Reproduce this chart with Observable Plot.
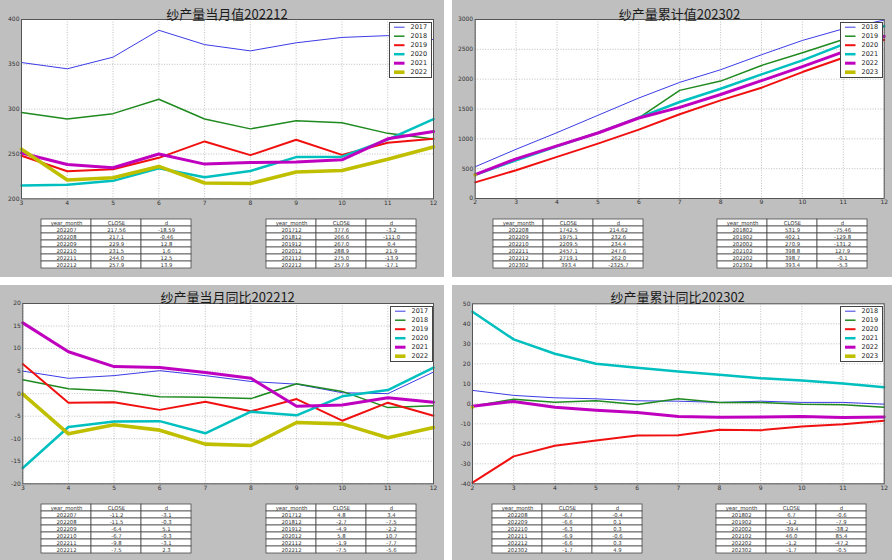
<!DOCTYPE html>
<html><head><meta charset="utf-8">
<script src="https://cdn.jsdelivr.net/npm/d3@7"></script>
<script src="https://cdn.jsdelivr.net/npm/@observablehq/plot@0.6"></script>
<style>
html,body{margin:0;padding:0;background:#fff;}
#root{position:relative;width:892px;height:560px;overflow:hidden;background:#fff;}
.panel{position:absolute;background:#bfbfbf;overflow:hidden;}
.panel > *{position:absolute;}
.title{font-family:"Noto Sans CJK SC","Noto Sans",sans-serif;font-size:13px;color:#1a1a1a;white-space:nowrap;transform:translate(-50%,-50%);line-height:1;}
</style></head><body><div id="root"></div>
<script>
// ---------- Chart 1: 纱产量当月值202212 ----------
const mvMonths = [3,4,5,6,7,8,9,10,11,12];
const mvYears = ["2017","2018","2019","2020","2021","2022"];
const mv2017 = [352,345,358,388,372,365,374,380,382,377.6];
const mv2018 = [296.3,289,295,311,289,278,287,284.8,273,266.6];
const mv2019 = [248,230.8,233,245.7,264,248.7,265.8,249,262.5,267.0];
const mv2020 = [214.9,215.6,220,234,224,231,246.5,247,266,288.9];
const mv2021 = [251,238.3,234.6,250,238.7,240.5,241,243.5,266.9,275.0];
const mv2022 = [255.4,221,223.4,236.15,217.56,217.1,229.9,231.5,244.0,257.9];
const mvYTicks = [200,250,300,350,400];
const mvT1Month = ["202207","202208","202209","202210","202211","202212"];
const mvT1Close = ["217.56","217.1","229.9","231.5","244.0","257.9"];
const mvT1D = ["-18.59","-0.46","12.8","1.6","12.5","13.9"];
const mvT2Month = ["201712","201812","201912","202012","202112","202212"];
const mvT2Close = ["377.6","266.6","267.0","288.9","275.0","257.9"];
const mvT2D = ["-3.2","-111.0","0.4","21.9","-13.9","-17.1"];

// ---------- Chart 2: 纱产量累计值202302 ----------
const cvMonths = [2,3,4,5,6,7,8,9,10,11,12];
const cvYears = ["2018","2019","2020","2021","2022","2023"];
const cv2018 = [531.9,825,1104,1394,1684,1946,2158,2409,2649,2844,2990];
const cv2019 = [402.1,650,880,1105,1350,1812,1968,2230,2442,2665,2885];
const cv2020 = [270.9,474,697,920,1154,1411,1645,1857,2119,2359,2660];
const cv2021 = [398.8,641,875,1100,1355,1617,1840,2080,2314,2582,2890];
const cv2022 = [398.7,665,881,1098,1349,1527.88,1742.5,1975.1,2209.5,2457.1,2719.1];
const cv2023 = [393.4];
const cvYTicks = [0,500,1000,1500,2000,2500,3000];
const cvT1Month = ["202208","202209","202210","202211","202212","202302"];
const cvT1Close = ["1742.5","1975.1","2209.5","2457.1","2719.1","393.4"];
const cvT1D = ["214.62","232.6","234.4","247.6","262.0","-2325.7"];
const cvT2Month = ["201802","201902","202002","202102","202202","202302"];
const cvT2Close = ["531.9","402.1","270.9","398.8","398.7","393.4"];
const cvT2D = ["-75.46","-129.8","-131.2","127.9","-0.1","-5.3"];

// ---------- Chart 3: 纱产量当月同比202212 ----------
const yoMonths = [3,4,5,6,7,8,9,10,11,12];
const yoYears = ["2017","2018","2019","2020","2021","2022"];
const yo2017 = [5.0,3.4,4.0,5.1,4.0,2.7,2.1,0.2,0.0,4.8];
const yo2018 = [3.1,1.1,0.6,-0.7,-0.8,-1.1,2.2,0.5,-3.1,-2.7];
const yo2019 = [6.6,-2.0,-1.9,-3.6,-1.8,-3.9,-1.2,-6.0,-2.0,-4.9];
const yo2020 = [-16.5,-7.4,-6.2,-6.1,-8.8,-4.0,-4.8,-0.6,0.8,5.8];
const yo2021 = [15.7,9.3,6.0,5.8,4.7,3.4,-2.8,-2.5,-0.9,-1.9];
const yo2022 = [-0.1,-8.9,-6.9,-8.1,-11.2,-11.5,-6.4,-6.7,-9.8,-7.5];
const yoYTicks = [-20,-15,-10,-5,0,5,10,15,20];
const yoT1Month = ["202207","202208","202209","202210","202211","202212"];
const yoT1Close = ["-11.2","-11.5","-6.4","-6.7","-9.8","-7.5"];
const yoT1D = ["-3.1","-0.3","5.1","-0.3","-3.1","2.3"];
const yoT2Month = ["201712","201812","201912","202012","202112","202212"];
const yoT2Close = ["4.8","-2.7","-4.9","5.8","-1.9","-7.5"];
const yoT2D = ["3.4","-7.5","-2.2","10.7","-7.7","-5.6"];

// ---------- Chart 4: 纱产量累计同比202302 ----------
const cyMonths = [2,3,4,5,6,7,8,9,10,11,12];
const cyYears = ["2018","2019","2020","2021","2022","2023"];
const cy2018 = [6.7,4.2,3.0,2.5,1.5,1.3,0.7,1.3,0.7,0.7,-0.2];
const cy2019 = [-1.2,2.3,0.8,1.5,-0.3,2.5,0.7,0.7,-0.2,-0.5,-1.7];
const cy2020 = [-39.4,-26.3,-21,-18.3,-15.8,-15.7,-13,-13.2,-11.3,-10.2,-8.5];
const cy2021 = [46.0,32.2,25,20,18,16.2,14.5,12.8,11.7,10.2,8.3];
const cy2022 = [-1.2,1.2,-1.7,-3.2,-4.3,-6.3,-6.7,-6.6,-6.3,-6.9,-6.6];
const cy2023 = [-1.7];
const cyYTicks = [-40,-30,-20,-10,0,10,20,30,40,50];
const cyT1Month = ["202208","202209","202210","202211","202212","202302"];
const cyT1Close = ["-6.7","-6.6","-6.3","-6.9","-6.6","-1.7"];
const cyT1D = ["-0.4","0.1","0.3","-0.6","0.3","4.9"];
const cyT2Month = ["201802","201902","202002","202102","202202","202302"];
const cyT2Close = ["6.7","-1.2","-39.4","46.0","-1.2","-1.7"];
const cyT2D = ["-0.6","-7.9","-38.2","85.4","-47.2","-0.5"];

const tableCols = ["year_month","CLOSE","d"];
const seriesColors = ["#3c3ce6","#1f8a1f","#f01010","#00bfbf","#bf00bf","#bfbf00"];
const seriesWidths = [1,1.5,2,2.5,3,3.6];

const root = document.getElementById("root");

function makeTable(months, closes, ds) {
  const cells = [];
  tableCols.forEach(c => cells.push({row: 0, col: c, text: c}));
  months.forEach((m, i) => {
    cells.push({row: i + 1, col: "year_month", text: m});
    cells.push({row: i + 1, col: "CLOSE", text: closes[i]});
    cells.push({row: i + 1, col: "d", text: ds[i]});
  });
  return Plot.plot({
    width: 151, height: 55,
    marginTop: 0.5, marginBottom: 0.5, marginLeft: 0.5, marginRight: 0.5,
    style: {background: "transparent", overflow: "visible"},
    x: {type: "band", domain: tableCols, padding: 0, axis: null},
    y: {type: "band", domain: d3.range(months.length + 1), padding: 0, axis: null},
    marks: [
      Plot.cell(cells, {x: "col", y: "row", fill: "#fff", stroke: "#4a4a4a", strokeWidth: 0.8}),
      Plot.text(cells, {x: "col", y: "row", text: "text", fontSize: 5.3, fill: "#333", fontFamily: "DejaVu Sans, sans-serif"})
    ]
  });
}

function makeLegend(years) {
  const svg = d3.create("svg").attr("width", 43).attr("height", 56).style("overflow", "visible");
  svg.append("rect").attr("x", 0.5).attr("y", 0.5).attr("width", 42).attr("height", 55)
    .attr("fill", "#fff").attr("stroke", "#444").attr("stroke-width", 1);
  years.forEach((yr, i) => {
    const cy = 5.2 + 9 * i;
    svg.append("line").attr("x1", 5).attr("x2", 15.5).attr("y1", cy).attr("y2", cy)
      .attr("stroke", seriesColors[i]).attr("stroke-width", seriesWidths[i]);
    svg.append("text").attr("x", 21.5).attr("y", cy).attr("dy", "0.35em")
      .attr("font-family", "DejaVu Sans, sans-serif").attr("font-size", 6.5).attr("fill", "#222").text(yr);
  });
  return svg.node();
}

function buildPanel(cfg) {
  const panel = document.createElement("div");
  panel.className = "panel";
  Object.assign(panel.style, {left: cfg.left + "px", top: cfg.top + "px", width: cfg.width + "px", height: cfg.height + "px"});
  root.appendChild(panel);

  const data = cfg.years.flatMap((yr, i) => cfg.series[i].map((v, j) => ({year: yr, month: cfg.months[j], value: v})));
  const xTicks = d3.range(cfg.months[0], 13);
  const gridStyle = {stroke: "#8a8a8a", strokeOpacity: 0.9, strokeDasharray: "1,1.6", strokeWidth: 0.6};
  const chart = Plot.plot({
    width: cfg.width, height: cfg.plot.h,
    marginLeft: cfg.plot.ml, marginTop: cfg.plot.mt, marginRight: cfg.plot.mr, marginBottom: cfg.plot.mb,
    style: {background: "transparent", fontFamily: "DejaVu Sans, sans-serif", fontSize: "6px", color: "#333", overflow: "visible"},
    x: {domain: [cfg.months[0], 12], label: null},
    y: {domain: [cfg.yTicks[0], cfg.yTicks[cfg.yTicks.length - 1]], label: null},
    marks: [
      Plot.frame({fill: "#fff"}),
      Plot.gridX(xTicks, gridStyle),
      Plot.gridY(cfg.yTicks, gridStyle),
      ...cfg.years.map((yr, i) => Plot.line(data.filter(d => d.year === yr),
        {x: "month", y: "value", stroke: seriesColors[i], strokeWidth: seriesWidths[i]})),
      Plot.frame({stroke: "#555", strokeWidth: 1}),
      Plot.axisX(xTicks, {tickSize: 0, tickPadding: 1.5, fontSize: 6, fill: "#333", label: null, tickFormat: d => String(d)}),
      Plot.axisY(cfg.yTicks, {tickSize: 0, tickPadding: 2, fontSize: 6, fill: "#333", label: null, tickFormat: d => String(d)})
    ]
  });
  chart.style.left = "0px"; chart.style.top = "0px";
  panel.appendChild(chart);

  const t = document.createElement("div");
  t.className = "title";
  t.textContent = cfg.title;
  t.style.left = cfg.titleX + "px"; t.style.top = cfg.titleY + "px";
  panel.appendChild(t);

  const lg = makeLegend(cfg.years);
  lg.style.left = cfg.legend.x + "px"; lg.style.top = cfg.legend.y + "px";
  panel.appendChild(lg);

  cfg.tables.forEach(tb => {
    const node = makeTable(tb.m, tb.c, tb.d);
    node.style.left = (tb.x - 0.5) + "px"; node.style.top = (tb.y - 0.5) + "px";
    panel.appendChild(node);
  });
}

buildPanel({
  left: 0, top: 0, width: 444, height: 277,
  title: "纱产量当月值202212", titleX: 227, titleY: 12.7,
  months: mvMonths, years: mvYears, series: [mv2017, mv2018, mv2019, mv2020, mv2021, mv2022], yTicks: mvYTicks,
  plot: {ml: 21, mt: 19, mr: 11, mb: 11.7, h: 210},
  legend: {x: 389, y: 22},
  tables: [{x: 40, y: 216.7, m: mvT1Month, c: mvT1Close, d: mvT1D}, {x: 265, y: 216.7, m: mvT2Month, c: mvT2Close, d: mvT2D}]
});
buildPanel({
  left: 452, top: 0, width: 440, height: 277,
  title: "纱产量累计值202302", titleX: 227.5, titleY: 12.7,
  months: cvMonths, years: cvYears, series: [cv2018, cv2019, cv2020, cv2021, cv2022, cv2023], yTicks: cvYTicks,
  plot: {ml: 22.7, mt: 19, mr: 8.3, mb: 12, h: 210},
  legend: {x: 388.3, y: 22},
  tables: [{x: 40.7, y: 216.7, m: cvT1Month, c: cvT1Close, d: cvT1D}, {x: 264, y: 216.7, m: cvT2Month, c: cvT2Close, d: cvT2D}]
});
buildPanel({
  left: 0, top: 285, width: 444, height: 275,
  title: "纱产量当月同比202212", titleX: 227.7, titleY: 11,
  months: yoMonths, years: yoYears, series: [yo2017, yo2018, yo2019, yo2020, yo2021, yo2022], yTicks: yoYTicks,
  plot: {ml: 22.3, mt: 18, mr: 11, mb: 11.7, h: 210},
  legend: {x: 390, y: 21},
  tables: [{x: 40.7, y: 216.7, m: yoT1Month, c: yoT1Close, d: yoT1D}, {x: 265, y: 216.7, m: yoT2Month, c: yoT2Close, d: yoT2D}]
});
buildPanel({
  left: 452, top: 285, width: 440, height: 275,
  title: "纱产量累计同比202302", titleX: 225.7, titleY: 11,
  months: cyMonths, years: cyYears, series: [cy2018, cy2019, cy2020, cy2021, cy2022, cy2023], yTicks: cyYTicks,
  plot: {ml: 20, mt: 18.3, mr: 8.3, mb: 11.7, h: 210},
  legend: {x: 388.3, y: 21},
  tables: [{x: 39, y: 216.7, m: cyT1Month, c: cyT1Close, d: cyT1D}, {x: 263.3, y: 216.7, m: cyT2Month, c: cyT2Close, d: cyT2D}]
});
</script></body></html>
